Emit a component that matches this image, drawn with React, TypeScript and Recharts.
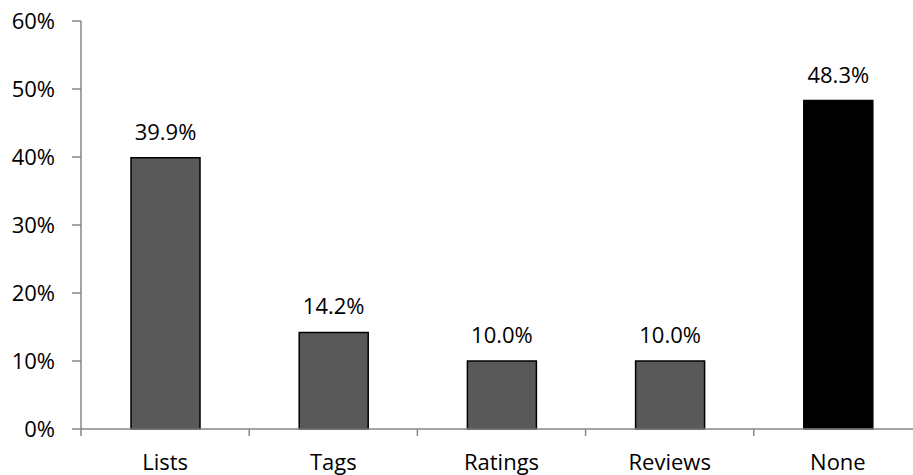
import { Bar, BarChart, Cell, LabelList, XAxis, YAxis } from "recharts"

const categories = ["Lists", "Tags", "Ratings", "Reviews", "None"]
const shares = [39.9, 14.2, 10.0, 10.0, 48.3]
const barColors = ["#595959", "#595959", "#595959", "#595959", "#000000"]
const yTicks = [0, 10, 20, 30, 40, 50, 60]

const data = categories.map((name, i) => ({ name, share: shares[i] }))

const FONT = "'Open Sans', sans-serif"
const AXIS = "#868686"

// category label at the centre, small tick mark at the band's left edge
const CategoryTick = (props: any) => {
  const { x, y, payload } = props
  const edge = x - (payload?.offset ?? 0)
  return (
    <g>
      <line x1={edge} y1={y} x2={edge} y2={y + 7} stroke={AXIS} strokeWidth={1.5} />
      <text x={x} y={y + 41} textAnchor="middle" fill="#000" fontSize={22} fontFamily={FONT}>
        {payload.value}
      </text>
    </g>
  )
}

export default function App() {
  return (
    <div style={{ position: "absolute", left: 0, top: 0, width: 913, height: 475, overflow: "hidden", background: "#fff" }}>
      <BarChart
        width={922}
        height={475}
        data={data}
        margin={{ top: 21, right: 0, left: 0, bottom: 0 }}
      >
        <XAxis
          dataKey="name"
          height={46}
          tickSize={0}
          tickMargin={0}
          tickLine={false}
          axisLine={{ stroke: AXIS, strokeWidth: 1.5 }}
          tick={<CategoryTick />}
          interval={0}
        />
        <YAxis
          width={81}
          domain={[0, 60]}
          ticks={yTicks}
          interval={0}
          tickSize={9}
          tickMargin={17}
          tickLine={{ stroke: AXIS, strokeWidth: 1.5 }}
          axisLine={{ stroke: AXIS, strokeWidth: 1.5 }}
          tick={{ fill: "#000", fontSize: 22, fontFamily: FONT }}
          tickFormatter={(v: number) => `${v}%`}
        />
        <Bar dataKey="share" barSize={69} stroke="#000" strokeWidth={1.5} isAnimationActive={false}>
          {data.map((d, i) => (
            <Cell key={d.name} fill={barColors[i]} />
          ))}
          <LabelList
            dataKey="share"
            position="top"
            offset={18}
            fill="#000"
            fontSize={22}
            fontFamily={FONT}
            formatter={(v: number) => `${v.toFixed(1)}%`}
          />
        </Bar>
      </BarChart>
    </div>
  )
}
